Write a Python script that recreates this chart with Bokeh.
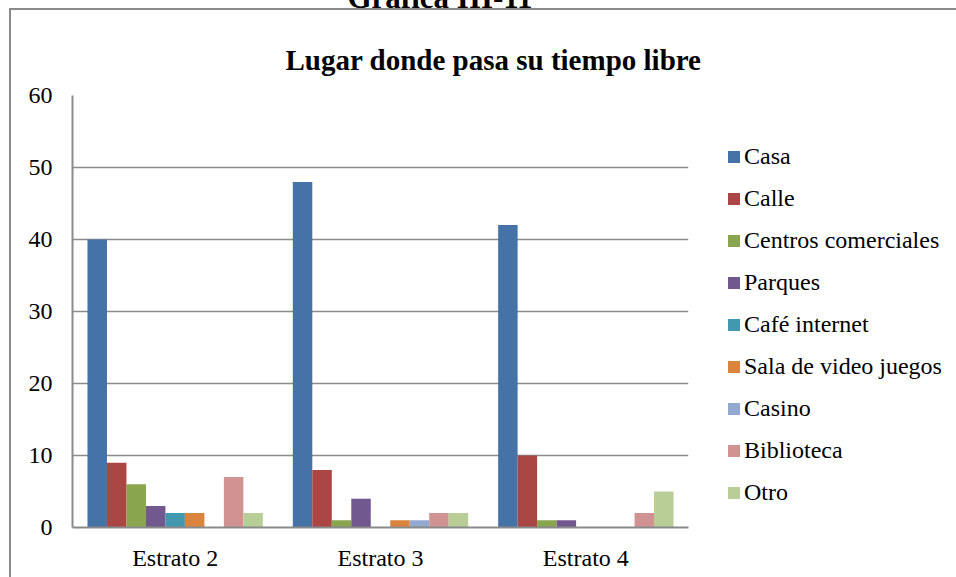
from bokeh.plotting import figure
from bokeh.models import (FactorRange, Range1d, Legend, LegendItem, ColumnDataSource,
                          Title, InlineStyleSheet)
from bokeh.transform import dodge
from bokeh.embed import file_html
from bokeh.resources import INLINE

top_caption = "Gráfica III-11"
title_text = "Lugar donde pasa su tiempo libre"
categories = ["Estrato 2", "Estrato 3", "Estrato 4"]
series_names = ["Casa", "Calle", "Centros comerciales", "Parques", "Café internet",
                "Sala de video juegos", "Casino", "Biblioteca", "Otro"]
casa = [40, 48, 42]
calle = [9, 8, 10]
centros = [6, 1, 1]
parques = [3, 4, 1]
cafe = [2, 0, 0]
sala = [2, 1, 0]
casino = [0, 1, 0]
biblioteca = [7, 2, 2]
otro = [2, 2, 5]
y_ticks = [0, 10, 20, 30, 40, 50, 60]

series_values = [casa, calle, centros, parques, cafe, sala, casino, biblioteca, otro]
colors = ["#4572A7", "#AA4643", "#89A54E", "#71588F", "#4198AF",
          "#DB843D", "#93A9CF", "#D19392", "#B9CD96"]

FONT = "Liberation Serif"
GRAY = "#8a8a8a"
SHIFT = 30  # part of the canvas hidden above the page top

data = {"cat": categories}
keys = []
for i, vals in enumerate(series_values):
    k = f"s{i}"
    keys.append(k)
    data[k] = vals
src = ColumnDataSource(data)

p = figure(x_range=FactorRange(*categories), y_range=Range1d(0, 60),
           frame_width=616, frame_height=432, output_backend="svg", toolbar_location=None,
           min_border_left=72, min_border_right=268, min_border_top=95 + SHIFT,
           min_border_bottom=50)
p.margin = (-SHIFT, 0, 0, 0)

main_title = Title(text=title_text, text_font=FONT, text_font_size="29px",
                   text_font_style="bold", text_color="black", align="left",
                   offset=213, standoff=39)
p.add_layout(main_title, "above")
cap_title = Title(text=top_caption, text_font=FONT, text_font_size="31px",
                  text_font_style="bold", text_color="black", align="left",
                  offset=275, standoff=15)
p.add_layout(cap_title, "above")

bw = 0.0949
items = []
for i, (k, name, c) in enumerate(zip(keys, series_names, colors)):
    r = p.vbar(x=dodge("cat", (i - 4) * bw, range=p.x_range), top=k, width=bw,
               source=src, fill_color=c, line_color=None)
    items.append(LegendItem(label=name, renderers=[r]))

legend = Legend(items=items, location=(38, 21), glyph_width=15, glyph_height=15,
                label_standoff=3, spacing=15, padding=0, margin=0,
                border_line_color=None, background_fill_alpha=0,
                label_text_font=FONT, label_text_font_size="24px", label_text_color="black")
p.add_layout(legend, "right")

p.outline_line_color = None
p.xgrid.grid_line_color = None
p.ygrid.grid_line_color = GRAY
p.ygrid.grid_line_width = 1.5
p.yaxis.ticker = y_ticks

for ax in (p.xaxis, p.yaxis):
    ax.axis_line_color = GRAY
    ax.axis_line_width = 2
    ax.major_tick_line_color = None
    ax.minor_tick_line_color = None
    ax.major_tick_out = 0
    ax.major_tick_in = 0
    ax.major_label_text_font = FONT
    ax.major_label_text_font_size = "24px"
    ax.major_label_text_color = "black"
p.yaxis.major_label_standoff = 20
p.xaxis.major_label_standoff = 17
p.x_range.range_padding = 0
p.x_range.group_padding = 0

p.stylesheets = [InlineStyleSheet(css=f"""
:host {{ position: relative; }}
:host::after {{
  content: ""; position: absolute; left: 9px; top: {SHIFT + 8}px; right: 0; bottom: 0;
  border-left: 2px solid {GRAY}; border-top: 2px solid {GRAY}; pointer-events: none;
}}
""")]

open("out.html", "w").write(file_html(p, INLINE))
